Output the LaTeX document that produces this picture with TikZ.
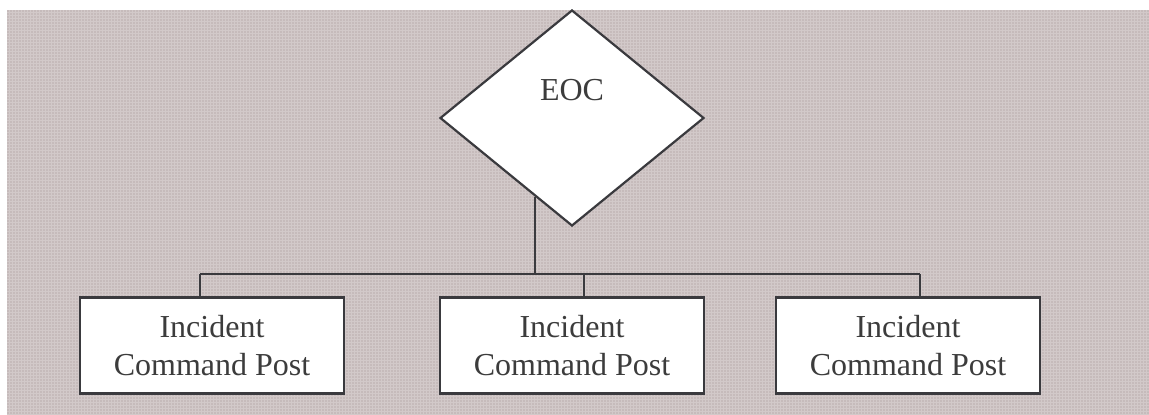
\documentclass[tikz,border=0pt]{standalone}
\usepackage{fontspec}
\setmainfont{Liberation Serif}
\usetikzlibrary{shapes.geometric}

\begin{document}
\begin{tikzpicture}[x=1pt, y=-1pt,
    link/.style={draw=lineColour, line width=2.2pt},
    eocshape/.style={diamond, draw=lineColour, fill=white, line width=2.2pt,
        inner sep=0pt, minimum width=264pt, minimum height=216pt},
    postbox/.style={rectangle, draw=lineColour, fill=white, line width=2.2pt,
        minimum width=264pt, minimum height=96pt, align=center,
        text=textColour, font=\fontsize{32}{38}\selectfont}]
    \definecolor{lineColour}{HTML}{3A3A3E}
    \definecolor{textColour}{HTML}{3C3C3C}
    \definecolor{backColour}{HTML}{C6BBBB}
    \definecolor{gridColour}{HTML}{D2C9C9}

    \useasboundingbox (0,0) rectangle (1149,415);

    % Draw background
    \fill[backColour] (7,10) rectangle (1149,415);
    \draw[step=3pt, gridColour, line width=0.6pt] (7,10) grid (1149,415);

    % EOC diamond
    \node[eocshape] (eoc) at (572,118) {};
    \node[text=textColour, font=\fontsize{32}{38}\selectfont] (eoclabel) at (572,90) {EOC};

    % Incident command posts
    \node[postbox] (icp1) at (212,345.5) {Incident\\Command Post};
    \node[postbox] (icp2) at (572,345.5) {Incident\\Command Post};
    \node[postbox] (icp3) at (908,345.5) {Incident\\Command Post};

    % Bus line
    \coordinate (busleft) at (200,274);
    \coordinate (busmid) at (584,274);
    \coordinate (busright) at (920,274);
    \draw[link] (busleft) -- (busright);

    % Connectors
    \draw[link] (eoc.245) -- (eoc.245 |- busleft);
    \draw[link] (busleft) -- (busleft |- icp1.north);
    \draw[link] (busmid) -- (busmid |- icp2.north);
    \draw[link] (busright) -- (busright |- icp3.north);

\end{tikzpicture}
\end{document}
